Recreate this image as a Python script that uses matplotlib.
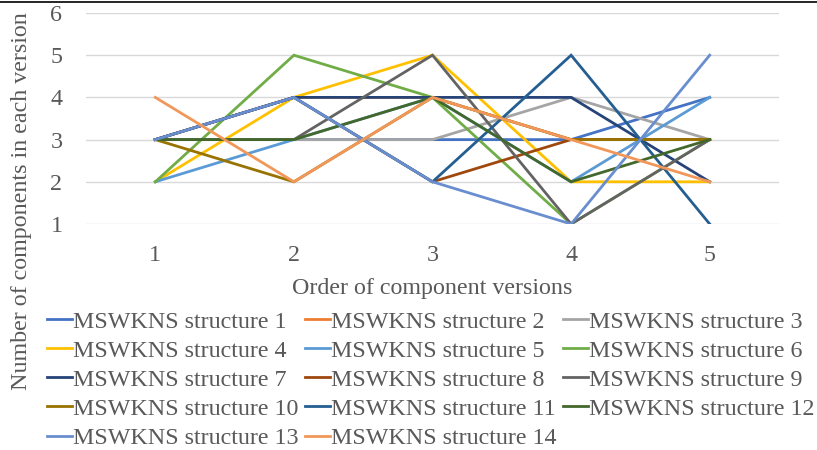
import matplotlib
matplotlib.use("Agg")
import matplotlib.pyplot as plt
from matplotlib.lines import Line2D

versions = [1, 2, 3, 4, 5]
series_names = [f"MSWKNS structure {i}" for i in range(1, 15)]
values = [
    [3, 3, 3, 3, 4],   # 1
    [3, 4, 4, 3, 3],   # 2
    [3, 3, 3, 4, 3],   # 3
    [2, 4, 5, 2, 2],   # 4
    [2, 3, 4, 2, 4],   # 5
    [2, 5, 4, 1, 3],   # 6
    [3, 4, 4, 4, 2],   # 7
    [3, 4, 2, 3, 3],   # 8
    [3, 3, 5, 1, 3],   # 9
    [3, 2, 4, 3, 3],   # 10
    [3, 4, 2, 5, 1],   # 11
    [3, 3, 4, 2, 3],   # 12
    [3, 4, 2, 1, 5],   # 13
    [4, 2, 4, 3, 2],   # 14
]
colors = ["#4472C4", "#ED7D31", "#A5A5A5", "#FFC000", "#5B9BD5", "#70AD47",
          "#264478", "#9E480E", "#636363", "#997300", "#255E91", "#43682B",
          "#698ED0", "#F1975A"]

plt.rcParams['font.family'] = ['Liberation Serif', 'DejaVu Serif']
txt = "#595959"
fs = 17.3

fig = plt.figure(figsize=(8.17, 4.5), dpi=100)
ax = fig.add_axes([86/817, 1-224/450, 693/817, 211/450])

handles = []
for i, (name, vals, c) in enumerate(zip(series_names, values, colors)):
    h, = ax.plot(versions, vals, color=c, lw=2.0, label=name, zorder=2+i,
                 solid_joinstyle='miter')
    handles.append(h)

ax.set_xlim(0.5, 5.5)
ax.set_ylim(1, 6)
ax.set_yticks(range(1, 7))
ax.set_xticks(versions)
ax.grid(axis='y', color="#D9D9D9", lw=1.0, zorder=0)
for s in ax.spines.values():
    s.set_visible(False)
ax.tick_params(axis='both', length=0, labelcolor=txt, labelsize=fs)
ax.tick_params(axis='x', pad=15)
ax.tick_params(axis='y', pad=17)
ax.set_xlabel("Order of component versions", color=txt, fontsize=fs, labelpad=9)
fig.text(22/817, 1-201/450, "Number of components in each version", rotation=90,
         ha='center', va='center', color=txt, fontsize=fs)

order = [0, 3, 6, 9, 12, 1, 4, 7, 10, 13, 2, 5, 8, 11]
leg = fig.legend([handles[k] for k in order], [series_names[k] for k in order],
                 ncol=3, loc='upper left', bbox_to_anchor=(47/817, 1-311/450),
                 frameon=False, fontsize=fs, handlelength=1.05, handletextpad=0.05,
                 columnspacing=0.25, labelspacing=0.3, borderaxespad=0, borderpad=0)
for t in leg.get_texts():
    t.set_color(txt)

fig.add_artist(Line2D([0, 1], [1-1.5/450, 1-1.5/450], color='black', lw=1.2,
                      transform=fig.transFigure))

fig.savefig("out.png", dpi=100)
